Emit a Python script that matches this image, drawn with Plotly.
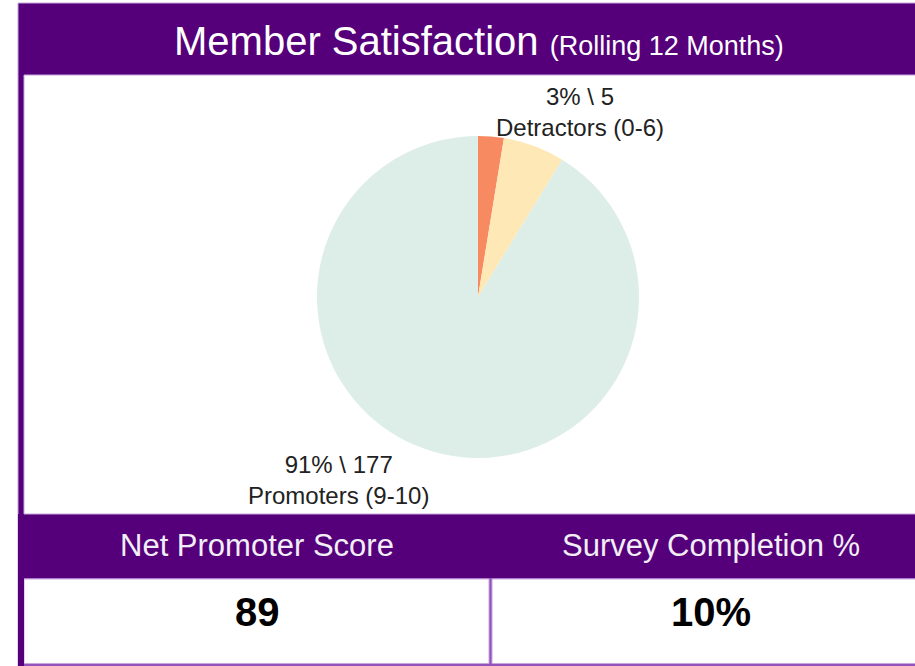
import plotly.graph_objects as go

# ---- data ----
categories = ["Detractors (0-6)", "Passives (7-8)", "Promoters (9-10)"]
counts = [5, 12, 177]
slice_colors = ["#F88A61", "#FEE8B6", "#DDEEE8"]
title_main = "Member Satisfaction"
title_sub = "(Rolling 12 Months)"
kpi_labels = ["Net Promoter Score", "Survey Completion %"]
survey_completion_pct = 10

W, H = 915, 666
PURPLE = "#55007A"
FONT = "Liberation Sans, Arial, sans-serif"


def px(x):
    return x / W


def py(y):
    return 1 - y / H


total = sum(counts)
pcts = [c / total * 100 for c in counts]
nps = round(pcts[2] - pcts[0])

fig = go.Figure()

# pie: center (478, 297), radius 161 px
cx, cy, r = 478, 297, 161
fig.add_trace(go.Pie(
    labels=categories,
    values=counts,
    marker=dict(colors=slice_colors, line=dict(width=0)),
    sort=False,
    direction="clockwise",
    rotation=0,
    textinfo="none",
    hoverinfo="label+value+percent",
    showlegend=False,
    domain=dict(x=[px(cx - r), px(cx + r)], y=[py(cy + r), py(cy - r)]),
))

shapes = []
# outer purple frame
shapes.append(dict(type="rect", xref="paper", yref="paper",
                   x0=px(18), x1=px(940), y0=py(3), y1=py(668),
                   fillcolor=PURPLE, line=dict(color="#C9A6DE", width=1), layer="below"))
# chart white area
shapes.append(dict(type="rect", xref="paper", yref="paper",
                   x0=px(24), x1=px(940), y0=py(75), y1=py(514),
                   fillcolor="white", line=dict(color="#C9A6DE", width=1), layer="below"))
# divider + bottom line region (lighter purple)
shapes.append(dict(type="rect", xref="paper", yref="paper",
                   x0=px(24), x1=px(940), y0=py(578), y1=py(666),
                   fillcolor="#9353BA", line=dict(width=0), layer="below"))
# KPI cells
shapes.append(dict(type="rect", xref="paper", yref="paper",
                   x0=px(24), x1=px(489), y0=py(579), y1=py(663.5),
                   fillcolor="white", line=dict(color="#C9A6DE", width=1), layer="below"))
shapes.append(dict(type="rect", xref="paper", yref="paper",
                   x0=px(492), x1=px(940), y0=py(579), y1=py(663.5),
                   fillcolor="white", line=dict(color="#C9A6DE", width=1), layer="below"))
# left dark strip continues to the bottom
shapes.append(dict(type="rect", xref="paper", yref="paper",
                   x0=px(18), x1=px(24), y0=py(514), y1=py(668),
                   fillcolor=PURPLE, line=dict(width=0), layer="below"))

annotations = []
# title
annotations.append(dict(
    xref="paper", yref="paper", x=px(479), y=py(41), xanchor="center", yanchor="middle",
    showarrow=False,
    text=f"{title_main} <span style='font-size:27px'>{title_sub}</span>",
    font=dict(family=FONT, size=40, color="white"),
))
# slice labels
annotations.append(dict(
    xref="paper", yref="paper", x=px(580), y=py(112), xanchor="center", yanchor="middle",
    showarrow=False, align="center",
    text=f"{round(pcts[0])}% \\ {counts[0]}<br>{categories[0]}",
    font=dict(family=FONT, size=24, color="#222222"),
))
annotations.append(dict(
    xref="paper", yref="paper", x=px(338), y=py(480), xanchor="center", yanchor="middle",
    showarrow=False, align="center",
    text=f"{round(pcts[2])}% \\ {counts[2]}<br>{categories[2]}",
    font=dict(family=FONT, size=24, color="#222222"),
))
# KPI headers
for label, x in zip(kpi_labels, [257, 711]):
    annotations.append(dict(
        xref="paper", yref="paper", x=px(x), y=py(545), xanchor="center", yanchor="middle",
        showarrow=False, text=label,
        font=dict(family=FONT, size=31, color="#F2EEF6"),
    ))
# KPI values
for val, x in zip([f"{nps}", f"{survey_completion_pct}%"], [257, 711]):
    annotations.append(dict(
        xref="paper", yref="paper", x=px(x), y=py(612), xanchor="center", yanchor="middle",
        showarrow=False, text=f"<b>{val}</b>",
        font=dict(family=FONT, size=40, color="black"),
    ))

fig.update_layout(
    width=W, height=H,
    margin=dict(l=0, r=0, t=0, b=0),
    paper_bgcolor="white", plot_bgcolor="white",
    shapes=shapes, annotations=annotations,
    showlegend=False,
)

fig.write_html("out.html", config={"displayModeBar": False},
               post_script="document.body.style.margin='0px';document.body.style.overflow='hidden';")
